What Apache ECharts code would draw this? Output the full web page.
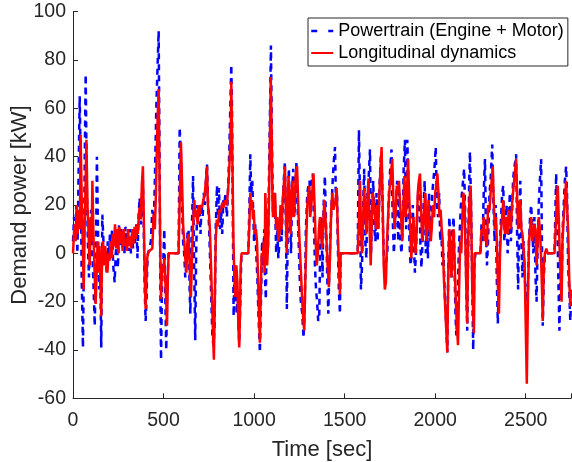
<!DOCTYPE html>
<html><head><meta charset="utf-8">
<script src="https://cdn.jsdelivr.net/npm/echarts@6/dist/echarts.min.js"></script>
<style>html,body{margin:0;padding:0;background:#fff}#c{width:572px;height:462px}</style>
</head><body><div id="c"></div>
<script>
const seriesNames = ['Powertrain (Engine + Motor)', 'Longitudinal dynamics'];
const xTicks = [0, 500, 1000, 1500, 2000, 2500];
const yTicks = [-60, -40, -20, 0, 20, 40, 60, 80, 100];

const redTime = [0,8,14,20,26,32,38,42,48,54,59,64,70,74,80,86,92,98,103,107,112,118,125,130,136,141,146,151,156,160,166,172,178,184,190,196,202,208,214,220,226,232,238,244,250,256,262,268,274,280,286,292,298,304,310,316,322,328,334,340,346,352,358,364,368,374,380,386,392,396,401,406,410,414,422,430,438,445,452,458,462,467,473,478,482,486,492,498,504,510,515,519,524,528,583,590,596,602,608,614,620,626,632,638,644,651,656,662,670,676,682,688,694,700,706,712,720,728,734,740,745,750,756,762,768,774,778,782,788,794,800,808,816,824,832,840,850,858,866,872,874,880,886,891,896,902,908,913,918,922,926,931,968,974,979,984,989,994,998,1004,1010,1016,1022,1027,1032,1037,1042,1048,1054,1058,1062,1068,1072,1078,1084,1088,1092,1097,1102,1106,1110,1116,1122,1128,1134,1140,1146,1152,1158,1164,1170,1175,1180,1186,1190,1196,1202,1206,1212,1218,1224,1230,1237,1242,1248,1254,1260,1266,1272,1277,1282,1288,1294,1300,1305,1310,1316,1322,1328,1334,1340,1346,1352,1358,1364,1370,1376,1382,1388,1394,1400,1406,1413,1420,1426,1432,1438,1444,1450,1456,1462,1468,1474,1478,1572,1578,1585,1590,1596,1602,1608,1614,1620,1626,1632,1638,1644,1650,1656,1662,1668,1674,1680,1686,1692,1698,1704,1710,1716,1722,1728,1734,1740,1746,1752,1758,1763,1770,1776,1782,1788,1794,1800,1806,1812,1818,1824,1830,1836,1842,1850,1856,1862,1868,1874,1880,1886,1892,1898,1904,1910,1916,1922,1928,1934,1940,1946,1952,1958,1964,1970,1976,1982,1988,1994,2000,2006,2012,2018,2024,2030,2036,2042,2048,2054,2060,2067,2072,2078,2084,2090,2096,2102,2108,2114,2120,2126,2132,2138,2144,2150,2156,2162,2168,2172,2177,2182,2188,2192,2196,2200,2205,2210,2214,2218,2250,2256,2262,2268,2274,2280,2286,2292,2300,2306,2312,2318,2324,2330,2336,2342,2347,2352,2358,2364,2370,2376,2382,2388,2394,2400,2406,2412,2418,2424,2430,2436,2442,2447,2452,2458,2464,2470,2476,2482,2488,2494,2500,2506,2512,2518,2524,2530,2536,2542,2548,2554,2560,2566,2572,2578,2584,2590,2594,2600,2606,2614,2620,2659,2665,2671,2677,2682,2688,2693,2698,2703,2710,2716,2723,2728,2734,2740,2746,2750];
const redPower = [0,12,5,20,8,18,10,49,22,5,-15,10,30,47,20,8,-5,15,5,30,10,-5,-21,-10,5,-8,3,-5,-26,0,5,-5,3,-3,-8,0,-3,5,-2,8,3,12,2,10,0,11,4,9,1,10,3,6,1,10,3,7,2,10,4,11,6,12,8,16,19,14,28,36,10,-10,-23,-10,-2,0,1,1,2,16,10,25,40,55,68,30,0,-19,-5,-8,-2,-12,-20,-30,-10,0,0,25,46,30,12,5,-2,-8,5,8,-5,-18,-5,10,22,15,18,12,20,16,20,19,22,25,30,36,20,17,10,-5,-20,-35,-44,-25,5,14,11,18,17,21,19,22,20,28,40,55,71,40,5,-10,-18,-5,-12,-30,-39,-25,-5,0,0,12,25,18,22,14,18,8,10,5,-10,-25,-37,-15,0,-1,5,-8,25,10,-5,5,30,50,73,50,20,15,22,25,10,15,5,8,20,10,22,28,36,20,0,15,32,20,8,25,30,15,20,33,36,25,10,0,-10,-20,-28,-32,-15,5,20,25,28,15,20,26,33,20,5,-5,0,10,15,8,2,12,22,15,5,-5,-14,0,18,25,18,20,22,27,10,-5,-17,0,0,12,30,10,0,15,27,18,8,22,31,10,-5,15,25,20,15,10,20,10,25,35,44,20,-5,-15,-12,5,15,25,30,35,39,20,10,18,28,25,30,20,15,5,18,32,15,20,39,25,10,-2,5,15,8,0,10,25,30,33,20,5,10,18,25,5,15,22,10,5,12,20,15,25,28,33,25,15,18,10,5,-10,-20,-30,-41,-10,10,0,-10,5,10,-5,-20,-30,-38,-15,5,0,15,25,20,0,-15,-29,5,20,25,28,10,-15,-25,-33,0,0,10,8,15,5,10,3,20,18,25,30,36,20,10,15,0,-15,-25,0,10,15,22,10,8,15,8,18,15,10,20,25,30,35,39,25,10,20,22,10,8,2,-5,-30,-54,-20,5,10,15,5,8,12,10,-5,5,15,10,0,-15,-28,-5,0,2,0,0,10,20,28,15,0,-10,-20,5,15,22,30,20,10,-10,-22,-15];

const blueTime = [0,6,12,18,24,30,37,42,48,55,60,65,70,76,82,88,94,100,106,112,120,126,132,138,144,150,156,162,168,174,180,186,192,198,204,210,216,222,230,236,242,248,254,260,266,272,278,284,290,296,302,308,314,320,326,332,338,344,350,356,362,368,374,380,386,392,396,401,406,410,414,422,430,438,445,452,460,466,473,478,482,486,492,498,504,510,515,520,528,583,589,596,602,608,614,620,626,632,638,644,648,652,658,663,668,675,680,686,692,698,704,710,716,722,728,734,740,746,752,758,764,770,776,782,788,795,800,806,812,818,824,830,836,842,850,858,864,870,874,878,882,887,892,898,904,910,914,918,924,930,968,974,979,984,990,994,1000,1006,1012,1018,1024,1032,1038,1044,1050,1056,1060,1065,1070,1076,1082,1088,1093,1098,1104,1110,1116,1122,1128,1134,1140,1146,1152,1158,1164,1170,1176,1181,1186,1192,1198,1204,1210,1216,1222,1228,1234,1240,1246,1252,1258,1266,1273,1280,1286,1294,1300,1306,1312,1318,1324,1330,1336,1342,1348,1354,1360,1366,1372,1378,1384,1391,1398,1404,1410,1416,1422,1428,1434,1440,1447,1452,1458,1462,1468,1474,1478,1572,1579,1585,1590,1596,1602,1608,1614,1620,1626,1632,1640,1646,1652,1658,1664,1670,1676,1682,1688,1694,1700,1706,1712,1718,1723,1730,1736,1742,1748,1754,1759,1765,1772,1778,1784,1790,1796,1802,1808,1814,1820,1826,1833,1840,1846,1852,1858,1864,1870,1876,1882,1888,1894,1900,1906,1912,1918,1924,1930,1936,1942,1948,1954,1960,1966,1972,1978,1984,1990,1996,2003,2010,2016,2022,2028,2034,2040,2046,2052,2058,2067,2072,2078,2084,2090,2096,2102,2108,2112,2117,2124,2130,2136,2142,2148,2154,2160,2166,2172,2177,2182,2188,2192,2198,2204,2210,2216,2222,2250,2256,2262,2268,2275,2280,2286,2292,2300,2306,2315,2322,2328,2334,2340,2346,2352,2358,2364,2370,2376,2382,2388,2394,2400,2406,2412,2418,2424,2430,2436,2442,2447,2452,2458,2464,2470,2476,2482,2488,2494,2500,2506,2512,2518,2524,2530,2536,2542,2548,2554,2560,2566,2572,2578,2585,2590,2594,2600,2606,2620,2659,2668,2674,2680,2686,2692,2698,2704,2710,2716,2723,2728,2734,2740,2746,2750];
const bluePower = [5,15,8,20,0,28,65,40,-10,-39,-5,40,74,30,5,-10,5,18,0,-10,-30,-5,40,10,-15,-5,-39,16,5,-5,0,-8,5,-3,8,2,10,-5,-12,0,5,-6,12,3,10,2,8,0,11,2,8,1,10,0,8,2,10,4,12,-2,15,23,12,20,30,5,-15,-28,-20,-5,0,2,5,18,10,30,60,75,92,40,-10,-44,-10,-5,10,-20,-40,-15,0,0,52,40,20,5,0,-10,-5,8,10,-15,-25,0,15,32,0,-36,0,20,15,20,8,20,15,25,20,30,37,20,10,-5,-20,-35,-38,-30,10,28,15,27,10,18,8,22,20,25,15,30,45,65,78,60,20,-26,-5,-15,-25,-15,-30,-37,-20,0,0,20,41,25,30,20,5,12,0,-10,-25,-41,-20,5,-5,10,-10,-19,15,0,30,60,86,50,15,25,20,0,10,-2,5,15,5,20,30,38,10,-23,10,35,15,0,25,35,15,25,38,20,5,-10,-20,-25,-35,-20,10,25,28,30,20,30,33,15,-5,-15,-20,-28,-25,10,15,-10,20,32,10,-10,-25,-5,10,20,30,38,44,20,25,5,-15,-25,0,0,51,20,-15,-5,20,35,5,-2,25,30,43,0,20,30,10,5,25,5,15,30,40,35,10,-5,-8,-3,0,20,30,38,43,15,0,10,20,30,5,25,5,0,10,35,47,10,47,30,5,-5,0,20,5,-8,0,15,25,30,5,-6,5,20,30,0,10,-2,25,5,10,25,30,35,44,20,15,25,5,10,-5,0,-15,-25,-41,-5,15,5,-10,10,15,-10,-25,-34,-20,0,10,20,25,30,35,15,-15,-32,0,30,42,20,-10,-40,-5,0,0,12,5,25,39,10,-5,5,25,30,45,20,5,20,-10,-29,-10,5,15,25,28,5,10,20,0,10,25,5,15,30,35,38,41,10,-15,15,30,5,-10,5,-10,-10,-20,-15,5,15,20,10,0,15,-10,-20,5,20,30,39,0,-30,-10,0,0,0,33,15,-10,-32,-5,-15,10,20,30,36,25,-5,-15,-28,-20];

function zip(t, v) { return t.map((x, i) => [x, v[i]]); }

const FONT = '"Liberation Sans", Arial, Helvetica, sans-serif';
const AX = '#262626';

const chart = echarts.init(document.getElementById('c'), null, {renderer: 'canvas'});
chart.setOption({
  animation: false,
  backgroundColor: '#fff',
  grid: {left: 73, right: 1, top: 11.7, bottom: 63.7, containLabel: false, outerBoundsMode: 'none'},
  legend: {
    orient: 'vertical', left: 308, top: 18,
    padding: [4, 4, 4, 2], itemGap: 4, itemWidth: 22, itemHeight: 14,
    borderColor: AX, borderWidth: 1, backgroundColor: '#fff',
    itemStyle: {opacity: 0},
    textStyle: {fontFamily: FONT, fontSize: 18, color: '#000'},
    data: [
      {name: seriesNames[0], lineStyle: {type: [6, 11], width: 2.5}},
      {name: seriesNames[1]}
    ]
  },
  xAxis: {
    type: 'value', min: 0, max: 2750, interval: 500,
    name: 'Time [sec]', nameLocation: 'middle', nameGap: 41, nameMoveOverlap: false,
    nameTextStyle: {fontFamily: FONT, fontSize: 22, color: AX},
    axisLine: {onZero: false, lineStyle: {color: AX, width: 1}},
    axisTick: {inside: true, length: 5, lineStyle: {color: AX}},
    axisLabel: {fontFamily: FONT, fontSize: 19.5, color: AX, margin: 12,
      formatter: v => xTicks.includes(v) ? String(v) : ''},
    splitLine: {show: false}
  },
  yAxis: {
    type: 'value', min: -60, max: 100, interval: 20,
    name: 'Demand power [kW]', nameLocation: 'middle', nameGap: 42, nameMoveOverlap: false,
    nameTextStyle: {fontFamily: FONT, fontSize: 22, color: AX},
    axisLine: {show: true, onZero: false, lineStyle: {color: AX, width: 1}},
    axisTick: {show: true, inside: true, length: 5, lineStyle: {color: AX}},
    axisLabel: {fontFamily: FONT, fontSize: 19.5, color: AX, margin: 7,
      formatter: v => yTicks.includes(v) ? String(v) : ''},
    splitLine: {show: false}
  },
  series: [
    {name: seriesNames[0], type: 'line', showSymbol: false, symbol: 'none',
     data: zip(blueTime, bluePower),
     lineStyle: {color: '#0000ff', width: 2.5, type: [6, 5]}, itemStyle: {color: '#0000ff'}},
    {name: seriesNames[1], type: 'line', showSymbol: false, symbol: 'none',
     data: zip(redTime, redPower),
     lineStyle: {color: '#ff0000', width: 2.5}, itemStyle: {color: '#ff0000'}}
  ]
});
</script></body></html>
